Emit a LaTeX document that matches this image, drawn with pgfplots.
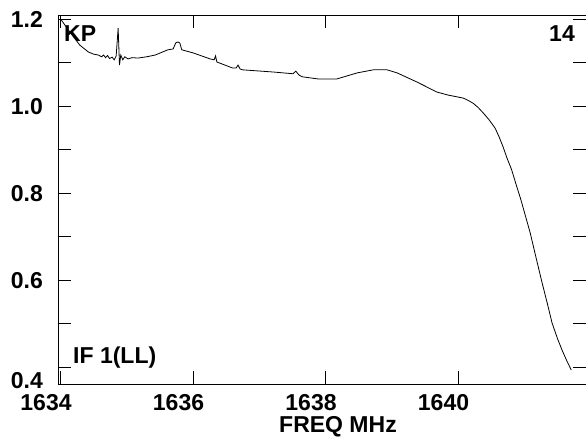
\documentclass[border=0pt]{standalone}
\usepackage{pgfplots}
\pgfplotsset{compat=1.18}
\usepackage{fontspec}
\setmainfont{Liberation Sans}
\newcommand{\lbl}{\fontsize{23bp}{27bp}\selectfont\bfseries}
\begin{document}
\begin{tikzpicture}
\begin{axis}[
  scale only axis,
  width=528bp, height=369bp,
  xmin=1633.962, xmax=1641.932,
  ymin=0.361, ymax=1.209,
  axis line style={line width=0.9bp},
  tick align=inside,
  major tick length=13bp, minor tick length=13bp,
  every tick/.style={black, line width=0.8bp},
  xtick={1634,1636,1638,1640},
  xticklabels={1634,1636,1638,1640},
  ytick={0.6,0.8,1.0,1.2},
  yticklabels={0.6,0.8,1.0,1.2},
  minor ytick={0.5,0.7,0.9,1.1},
  extra y ticks={0.4},
  extra y tick labels={0.4},
  extra y tick style={yticklabel style={yshift=-13bp}},
  xtick pos=both, ytick pos=both,
  xticklabel style={font=\lbl, anchor=base, inner sep=0pt, yshift=-26bp, xshift=-14.5bp},
  yticklabel style={font=\lbl, anchor=east, inner sep=0pt, xshift=-15bp, yshift=-1bp},
  clip=true,
]
\addplot[black, line width=0.8bp] coordinates {
(1634.01,1.198) (1634.14,1.170) (1634.29,1.140) (1634.42,1.124) (1634.50,1.119)
(1634.57,1.117) (1634.62,1.113) (1634.65,1.117) (1634.68,1.111) (1634.71,1.116)
(1634.74,1.109) (1634.78,1.112) (1634.81,1.106) (1634.84,1.115)
(1634.87,1.179) (1634.89,1.094) (1634.91,1.117) (1634.94,1.106) (1634.97,1.113)
(1635.02,1.108) (1635.08,1.111) (1635.17,1.110) (1635.30,1.113) (1635.43,1.117)
(1635.62,1.129) (1635.70,1.131) (1635.74,1.145) (1635.77,1.147) (1635.80,1.145)
(1635.83,1.129) (1636.00,1.122) (1636.26,1.108) (1636.32,1.106) (1636.34,1.115)
(1636.36,1.101) (1636.60,1.087) (1636.65,1.087) (1636.68,1.094) (1636.71,1.085)
(1636.75,1.083) (1637.21,1.078) (1637.51,1.074) (1637.55,1.080) (1637.60,1.071)
(1637.65,1.067) (1637.89,1.062) (1638.17,1.062) (1638.48,1.076) (1638.72,1.083)
(1638.93,1.083) (1639.08,1.076) (1639.38,1.055) (1639.68,1.032) (1639.85,1.025)
(1640.08,1.018) (1640.15,1.013) (1640.23,1.006) (1640.30,0.997) (1640.38,0.984)
(1640.47,0.968) (1640.56,0.949) (1640.62,0.929) (1640.68,0.906) (1640.74,0.880)
(1640.81,0.853) (1640.88,0.818) (1640.95,0.784) (1641.02,0.746) (1641.09,0.708)
(1641.18,0.650) (1641.27,0.593) (1641.35,0.545) (1641.42,0.501) (1641.50,0.466)
(1641.57,0.439) (1641.64,0.415) (1641.71,0.393)
};
\end{axis}
\node[font=\lbl, anchor=base west, inner sep=0pt] at (6bp,342bp) {KP};
\node[font=\lbl, anchor=base east, inner sep=0pt] at (517bp,342bp) {14};
\node[font=\lbl, anchor=base west, inner sep=0pt] at (15bp,21bp) {IF 1(LL)};
\node[font=\lbl, anchor=base, inner sep=0pt] at (280bp,-48bp) {FREQ MHz};
\pgfresetboundingbox
\path (-58bp,-53bp) rectangle (528bp,384bp);
\end{tikzpicture}
\end{document}
